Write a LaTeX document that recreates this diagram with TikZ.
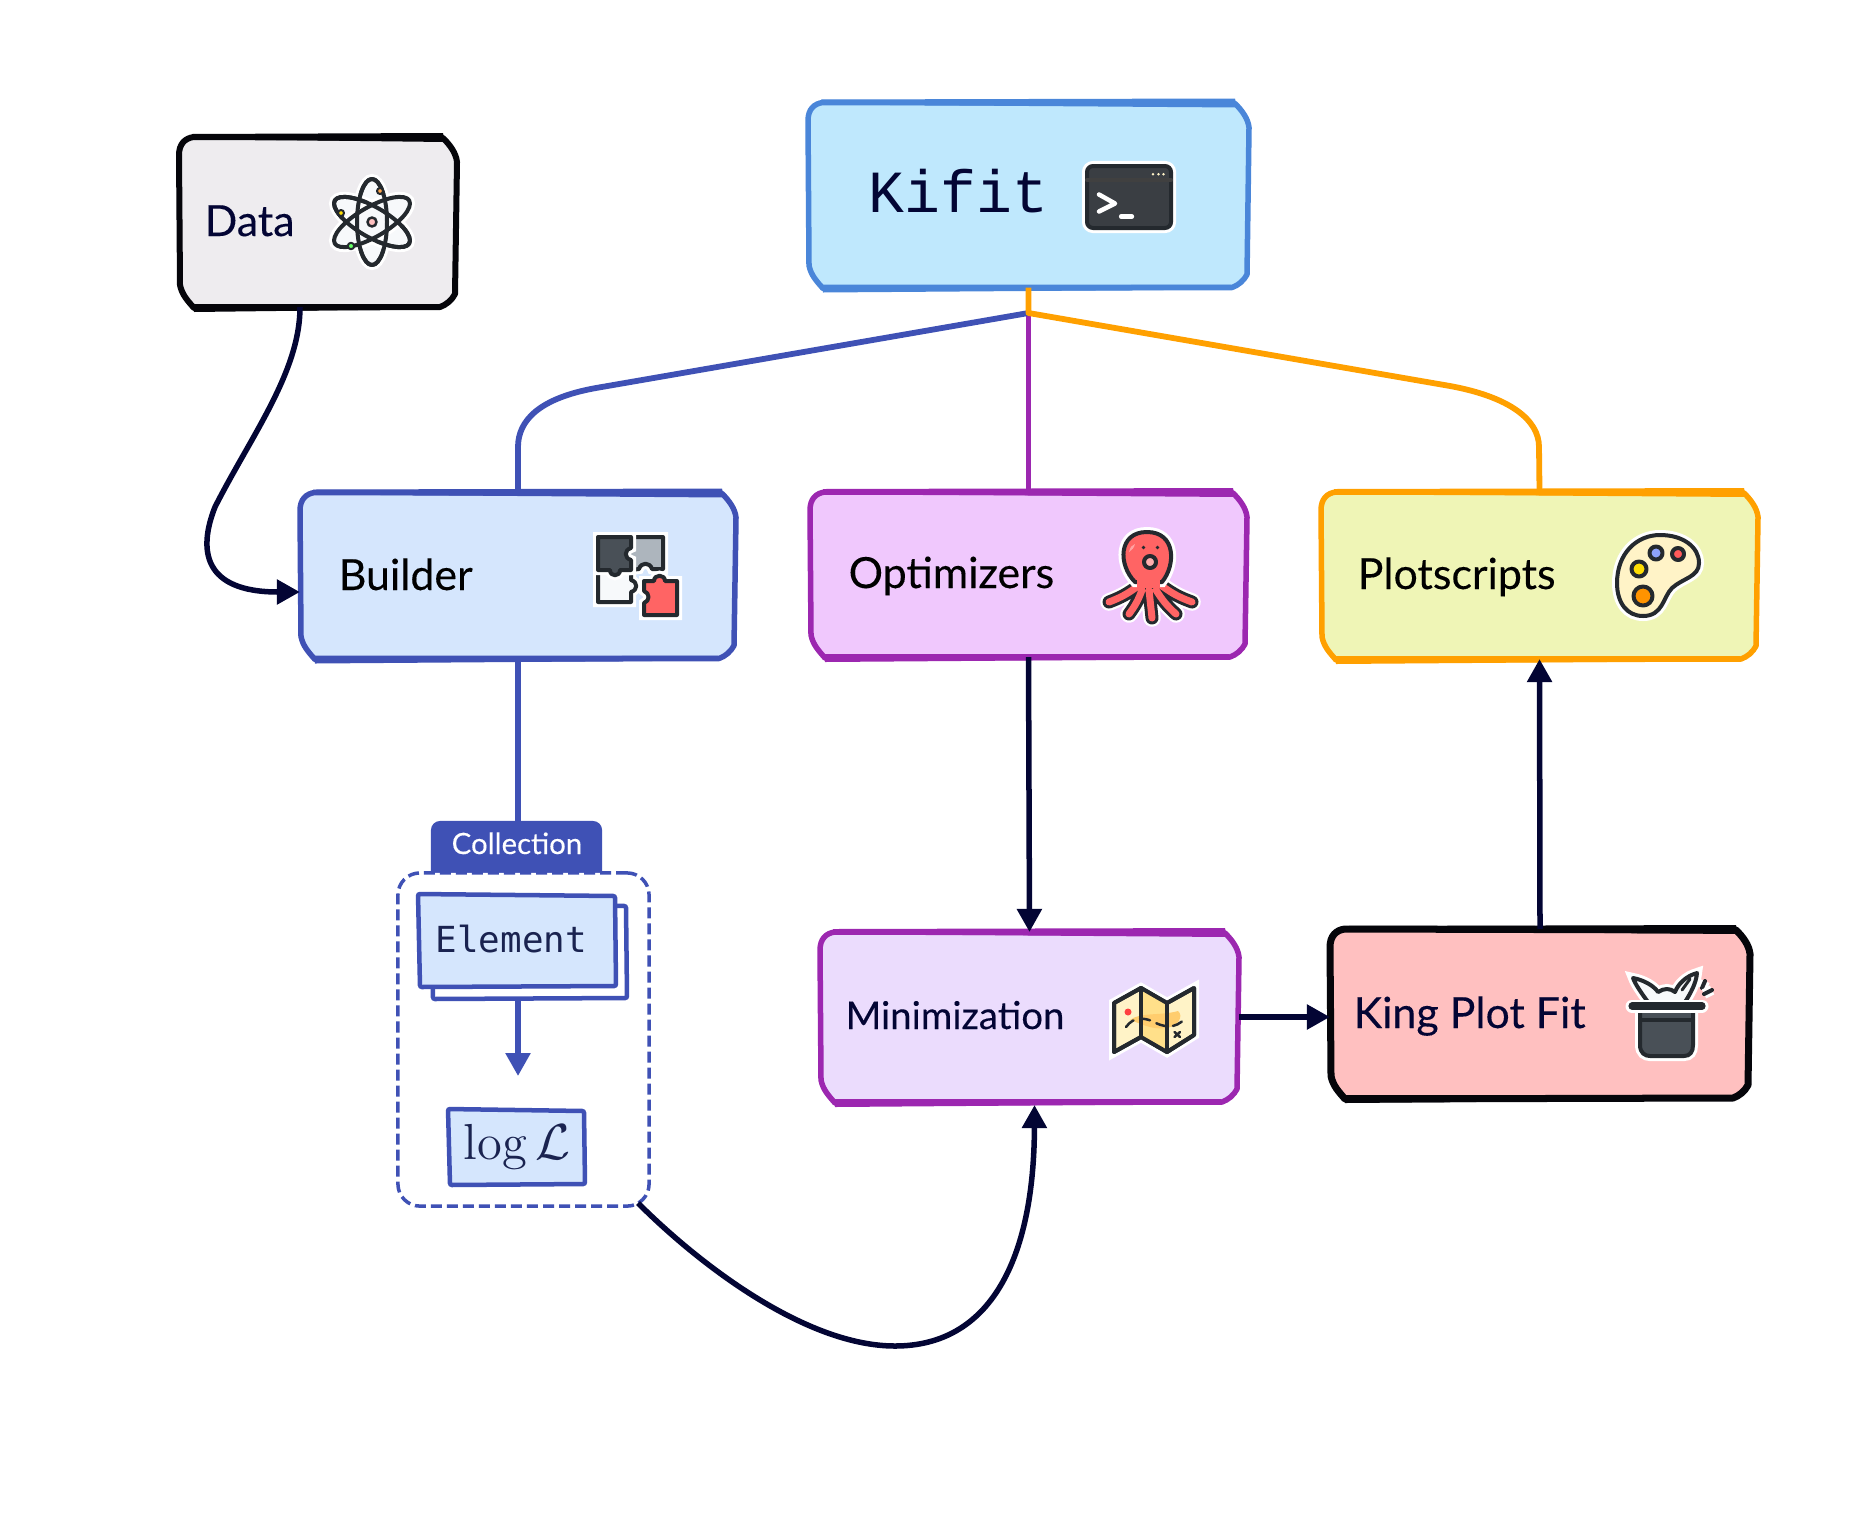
\documentclass[tikz,border=0pt]{standalone}
\usepackage{fontspec}
\usepackage{xcolor}
\usetikzlibrary{arrows.meta,calc,positioning}
\newfontfamily\labelfont[FakeBold=0.2]{Lato}
\newfontfamily\kifitfont{Liberation Mono}
\newfontfamily\elementfont{DejaVu Sans Mono}
\definecolor{kfnavy}{RGB}{3,5,52}
\definecolor{kfblack}{RGB}{5,5,10}
\definecolor{kfindigo}{RGB}{63,81,181}
\definecolor{kfpurple}{RGB}{156,39,176}
\definecolor{kforange}{RGB}{255,160,0}
\definecolor{kfsky}{RGB}{74,134,217}
\definecolor{kfskyfill}{RGB}{191,232,253}
\definecolor{kfdatafill}{RGB}{238,236,239}
\definecolor{kfbuilderfill}{RGB}{213,230,253}
\definecolor{kfoptfill}{RGB}{240,200,253}
\definecolor{kfplotfill}{RGB}{239,245,182}
\definecolor{kfminfill}{RGB}{235,220,253}
\definecolor{kfkingfill}{RGB}{255,192,192}
\definecolor{kfelement}{RGB}{26,35,80}
\definecolor{icondark}{RGB}{36,41,46}
\definecolor{iconslate}{RGB}{73,80,87}
\definecolor{icongrey}{RGB}{173,181,189}
\definecolor{iconpale}{RGB}{247,249,251}
\definecolor{iconred}{RGB}{255,100,100}
\definecolor{iconcream}{RGB}{255,243,199}
\definecolor{iconsand}{RGB}{255,224,138}
\definecolor{iconblue}{RGB}{141,162,251}
\tikzset{
  boxanchor/.style={rectangle, inner sep=0pt, outer sep=0pt},
  boxlabel/.style={anchor=base west, inner sep=0pt, text=kfnavy, font=\labelfont\fontsize{12.2}{14}\selectfont},
  navyarrow/.style={line width=0.55mm, draw=kfnavy, -{Triangle[length=2.3mm,width=2.4mm]}},
  icon/.style={draw=icondark, line width=0.4mm, line join=round, line cap=round},
  sticker/.style={icon, preaction={draw=white, line width=1mm}},
}
% hand drawn box: name, x, y, width, height, stroke, fill, stroke width
\newcommand{\sketchbox}[8]{%
  \node[boxanchor, minimum width=#4*0.1mm, minimum height=#5*0.1mm] (#1) at (#2,#3) {};
  \begin{scope}[shift={(#1.center)}]
    \pgfmathsetmacro\bw{#4/2}
    \pgfmathsetmacro\bh{#5/2}
    \draw[draw=#6, fill=#7, line width=#8*0.1mm, line join=round]
      (-\bw,-\bh+18) .. controls (-\bw,-\bh+7) and (-\bw+6,-\bh+1) .. (-\bw+15,-\bh)
      -- (\bw-14,-\bh+1) .. controls (\bw-7,-\bh+8) and (\bw-1,-\bh+16) .. (\bw,-\bh+25)
      -- (\bw-2,\bh-13) .. controls (\bw-5,\bh-7) and (\bw-11,\bh-2) .. (\bw-17,\bh)
      -- (-\bw+15,\bh+1) .. controls (-\bw+9,\bh-6) and (-\bw+3,\bh-12) .. (-\bw+1,\bh-22) -- cycle;
    \fill[#6] (-\bw+13,-\bh-3) -- (\bw-14,-\bh-4) -- (\bw-12,-\bh+5) -- (-\bw+13,-\bh+2) -- cycle;
    \fill[#6] (-\bw+14,\bh-3) -- (\bw-18,\bh-3) -- (\bw-18,\bh+2) -- (-\bw+15,\bh+5) -- cycle;
  \end{scope}
}
% smaller box with plain corners
\newcommand{\sketchrect}[6]{%
  \node[boxanchor, minimum width=#4*0.1mm, minimum height=#5*0.1mm] (#1) at (#2,#3) {};
  \begin{scope}[shift={(#1.center)}]
    \pgfmathsetmacro\bw{#4/2}
    \pgfmathsetmacro\bh{#5/2}
    \draw[draw=kfindigo, fill=#6, line width=0.45mm, rounded corners=0.2mm]
      (-\bw-1,-\bh-1) -- (\bw-1,-\bh+1) -- (\bw,\bh-1) -- (-\bw+1,\bh) -- cycle;
  \end{scope}
}
\begin{document}
\begin{tikzpicture}[x=0.01cm, y=-0.01cm]
\useasboundingbox (0,0) rectangle (1858,1530);

% Boxes
\sketchbox{data}{318}{222}{278}{170}{kfblack}{kfdatafill}{6}
\sketchbox{kifit}{1028.5}{195}{441}{185}{kfsky}{kfskyfill}{5.5}
\sketchbox{builder}{518}{575.5}{436}{166}{kfindigo}{kfbuilderfill}{5.5}
\sketchbox{optimizers}{1028.5}{574.5}{437}{165}{kfpurple}{kfoptfill}{5.5}
\sketchbox{plotscripts}{1539.5}{575.5}{437}{167}{kforange}{kfplotfill}{5.5}
\sketchbox{minimization}{1029.5}{1017}{419}{170}{kfpurple}{kfminfill}{5.5}
\sketchbox{king}{1540}{1013.5}{420}{169}{kfblack}{kfkingfill}{7}

% Labels
\node[boxlabel] (datalabel) at (204,236) {Data};
\node[boxlabel, text=black] (builderlabel) at (338,590) {Builder};
\node[boxlabel, text=black] (optimizerslabel) at (848,588) {Optimizers};
\node[boxlabel, text=black] (plotscriptslabel) at (1357,589) {Plotscripts};
\node[boxlabel, font=\labelfont\fontsize{10.9}{13}\selectfont] (minimizationlabel) at (845,1029) {Minimization};
\node[boxlabel] (kinglabel) at (1353,1028) {King Plot Fit};
\node[boxlabel, font=\kifitfont\fontsize{17}{20}\selectfont] (kifitlabel) at (868,212) {Kifit};

% Collection
\node[boxanchor, fill=kfindigo, rounded corners=0.9mm, minimum width=17.1mm, minimum height=6.4mm] (tab) at (516.5,853) {};
\node[boxanchor, fill=white, draw=kfindigo, line width=0.35mm, dash pattern=on 1.1mm off 0.5mm, rounded corners=2.2mm, minimum width=25.1mm, minimum height=33.3mm] (collection) at (523.5,1039.5) {};
\node[boxlabel, text=white, font=\labelfont\fontsize{8.35}{10}\selectfont] (tablabel) at (451,854) {Collection};
\sketchrect{elementback}{529.5}{952}{195}{94}{white}
\sketchrect{element}{517.5}{941}{197}{92}{kfbuilderfill}
\sketchrect{loglik}{517}{1147.5}{136}{75}{kfbuilderfill}
\node[boxlabel, text=kfelement, font=\elementfont\fontsize{10.2}{12}\selectfont] (elementlabel) at (435,952) {Element};
\node[anchor=base, inner sep=0pt, text=kfelement] (logliklabel) at (517,1159) {\fontsize{14.4}{16}\selectfont $\log\mathcal{L}$};
\coordinate (elementtip) at (518,1076);
\coordinate (fork) at (1028.5,313);

% Connectors
\draw[line width=0.48mm, draw=kfpurple] (fork) -- (fork |- optimizers.north);
\draw[line width=0.58mm, draw=kfindigo, line join=round] (fork) -- (596,388) .. controls (540,398) and (518,420) .. (518,447) -- (builder.north);
\draw[line width=0.58mm, draw=kforange, line join=round] (kifit.south) -- (fork) -- (1450,386) .. controls (1510,397) and (1539,420) .. (1539,447) -- (plotscripts.north);
\draw[line width=0.58mm, draw=kfindigo] (builder.south) -- (builder.south |- tab.north);
\draw[line width=0.55mm, draw=kfindigo, -{Triangle[length=2.3mm,width=2.4mm]}] (elementback.south -| elementtip) -- (elementtip);
\draw[navyarrow] ([shift={(-18,0)}]data.south) .. controls (300,372) and (251,436) .. (215,507) .. controls (198,550) and (203,592) .. (builder.west |- 0,592);
\draw[navyarrow] (optimizers.south) -- (minimization.north);
\draw[navyarrow] (minimization.east) -- (minimization.east -| king.west);
\draw[navyarrow] (king.north) -- (plotscripts.south);
\draw[navyarrow] ([shift={(-11,-3)}]collection.south east) .. controls (700,1265) and (806,1346) .. (895,1346) .. controls (990,1346) and (1034,1260) .. ([shift={(5,3)}]minimization.south);

% Icon: atom
\begin{scope}[shift={(372,222)}]
  \draw[icon, fill=iconpale, preaction={draw=white, line width=1mm}] (0,0) ellipse [x radius=15, y radius=43];
  \draw[icon, rotate=60, preaction={draw=white, line width=1mm}, fill=iconpale] (0,0) ellipse [x radius=15, y radius=43];
  \draw[icon, rotate=-60, preaction={draw=white, line width=1mm}, fill=iconpale] (0,0) ellipse [x radius=15, y radius=43];
  \draw[icon] (0,0) ellipse [x radius=15, y radius=43];
  \draw[icon, rotate=60] (0,0) ellipse [x radius=15, y radius=43];
  \draw[icon, fill=kfkingfill, line width=0.25mm] (0,0) circle (4.5);
  \draw[icon, fill=orange!70, line width=0.2mm] (8,-31) circle (3);
  \draw[icon, fill=yellow!80!orange, line width=0.2mm] (-31,-9) circle (3);
  \draw[icon, fill=green!60, line width=0.2mm] (-21,24) circle (3.2);
\end{scope}

% Icon: terminal
\begin{scope}[shift={(1080,155)}]
  \draw[icon, fill=icondark!90!white, rounded corners=0.6mm, preaction={draw=white, line width=1mm}] (7,11) rectangle (91,73);
  \draw[icon, draw=black!75] (7,25) -- (91,25);
  \fill[iconcream] (73,19.3) circle (1.4) (78.5,19.3) circle (1.4) (83.5,19.3) circle (1.4);
  \draw[line width=0.45mm, draw=white, line cap=round, line join=round] (19,39.5) -- (35,48.5) -- (19,56.5);
  \draw[line width=0.42mm, draw=white, line cap=round] (41,61.5) -- (52,61.5);
\end{scope}

% Icon: puzzle
\begin{scope}[shift={(560,512)}]
  \draw[sticker, fill=iconpale] (38,58) -- (50,58) .. controls (50,65) and (60,65) .. (60,58) -- (71,58) -- (71,68) .. controls (78,70) and (78,78) .. (71,80) -- (71,90) -- (38,90) -- cycle;
  \draw[sticker, fill=icongrey] (71,25) -- (103,25) -- (103,57) -- (92,57) .. controls (90,50) and (81,50) .. (79,57) -- (71,58) -- (71,48) .. controls (64,46) and (64,38) .. (71,36) -- cycle;
  \draw[sticker, fill=iconslate] (38,25) -- (71,25) -- (71,36) .. controls (64,38) and (64,46) .. (71,48) -- (71,58) -- (60,58) .. controls (60,65) and (50,65) .. (50,58) -- (38,58) -- cycle;
  \draw[sticker, fill=iconred] (84,69) -- (94,69) .. controls (94,62) and (105,62) .. (105,69) -- (117,69) -- (117,103) -- (84,103) -- (84,91) .. controls (90,89) and (90,81) .. (84,79) -- cycle;
\end{scope}

% Icon: octopus
\begin{scope}[shift={(1080,510)}]
  \draw[draw=iconred, line width=0.7mm, line cap=round, preaction={draw=white, line width=1.75mm, line cap=round}, preaction={draw=icondark, line width=1.3mm, line cap=round}]
    (58,76) to[bend left=8] (29,92) (62,80) to[bend left=8] (49,104) (69,80) to (72,108) (76,80) to[bend right=8] (96,104) (82,76) to[bend right=8] (112,92);
  \draw[sticker, fill=iconred] (55,72) .. controls (38,55) and (38,22) .. (67,22) .. controls (96,22) and (96,55) .. (82,72) -- cycle;
  \fill[iconred] (57,68) rectangle (80,78);
  \fill[white!40!iconred] (49,42) .. controls (50,37) and (52,35) .. (55,34) .. controls (54,38) and (52,40) .. (49,42) -- cycle;
  \fill[icondark] (63.5,37.5) circle (1.8) (77.5,37.5) circle (1.8);
  \draw[icon, fill=kfkingfill!80!iconred] (70,52) circle (6);
\end{scope}

% Icon: palette
\begin{scope}[shift={(1600,510)}]
  \draw[sticker, fill=iconcream] (17,73) .. controls (17,43) and (37,25) .. (60,25) .. controls (83,25) and (99,37) .. (99,53) .. controls (99,67) and (83,68) .. (72,78) .. controls (63,87) and (63,106) .. (43,106) .. controls (27,106) and (17,93) .. (17,73) -- cycle;
  \draw[icon, fill=iconblue] (56,43) circle (6.5);
  \draw[icon, fill=iconred!90!red] (78,44) circle (6);
  \draw[icon, fill=yellow!80!orange] (39,59) circle (7.5);
  \draw[icon, fill=orange!85!yellow] (43,86) circle (9.5);
\end{scope}

% Icon: map
\begin{scope}[shift={(1100,970)}]
  \draw[sticker, fill=iconcream] (14,33) -- (41,18) -- (67,33) -- (94,18) -- (94,65) -- (67,82) -- (41,67) -- (14,82) -- cycle;
  \fill[iconsand] (41,18) -- (67,33) -- (67,82) -- (41,67) -- cycle;
  \fill[iconsand!80!orange] (30,50) .. controls (40,42) and (60,46) .. (78,41) .. controls (84,46) and (78,57) .. (66,58) .. controls (52,60) and (42,54) .. (30,50) -- cycle;
  \draw[icon] (14,33) -- (41,18) -- (67,33) -- (94,18) -- (94,65) -- (67,82) -- (41,67) -- (14,82) -- cycle;
  \draw[icon] (41,18) -- (41,67) (67,33) -- (67,82);
  \fill[red!75!white] (28,42) circle (3.5);
  \draw[icon, line width=0.25mm, dash pattern=on 1mm off 0.7mm] (26,57) .. controls (34,46) and (44,48) .. (52,51) .. controls (62,57) and (76,60) .. (85,48);
  \draw[icon, line width=0.25mm] (74.5,62) -- (80,67) (80,62) -- (74.5,67);
\end{scope}

% Icon: hat
\begin{scope}[shift={(1620,960)}]
  \draw[sticker, fill=iconpale] (28,42) .. controls (22,34) and (15,24) .. (13,18) .. controls (24,20) and (34,26) .. (38,32) .. controls (44,28) and (50,28) .. (55,32) .. controls (58,24) and (66,16) .. (77,13) .. controls (76,24) and (70,34) .. (65,42) -- cycle;
  \draw[icon, line width=0.3mm] (62,30) -- (70,19);
  \draw[sticker, fill=iconslate] (20,50) -- (20,85) .. controls (20,93) and (25,96) .. (30,96) -- (64,96) .. controls (70,96) and (73,92) .. (73,85) -- (73,50) -- cycle;
  \draw[icon] (20,60) -- (73,60);
  \draw[line width=0.72mm, draw=icondark, line cap=round, preaction={draw=white, line width=1.3mm, line cap=round}] (12,46) -- (82,46);
  \draw[sticker] (85,21) -- (82,28);
  \draw[sticker] (92,30) -- (84,34);
\end{scope}
\end{tikzpicture}
\end{document}
